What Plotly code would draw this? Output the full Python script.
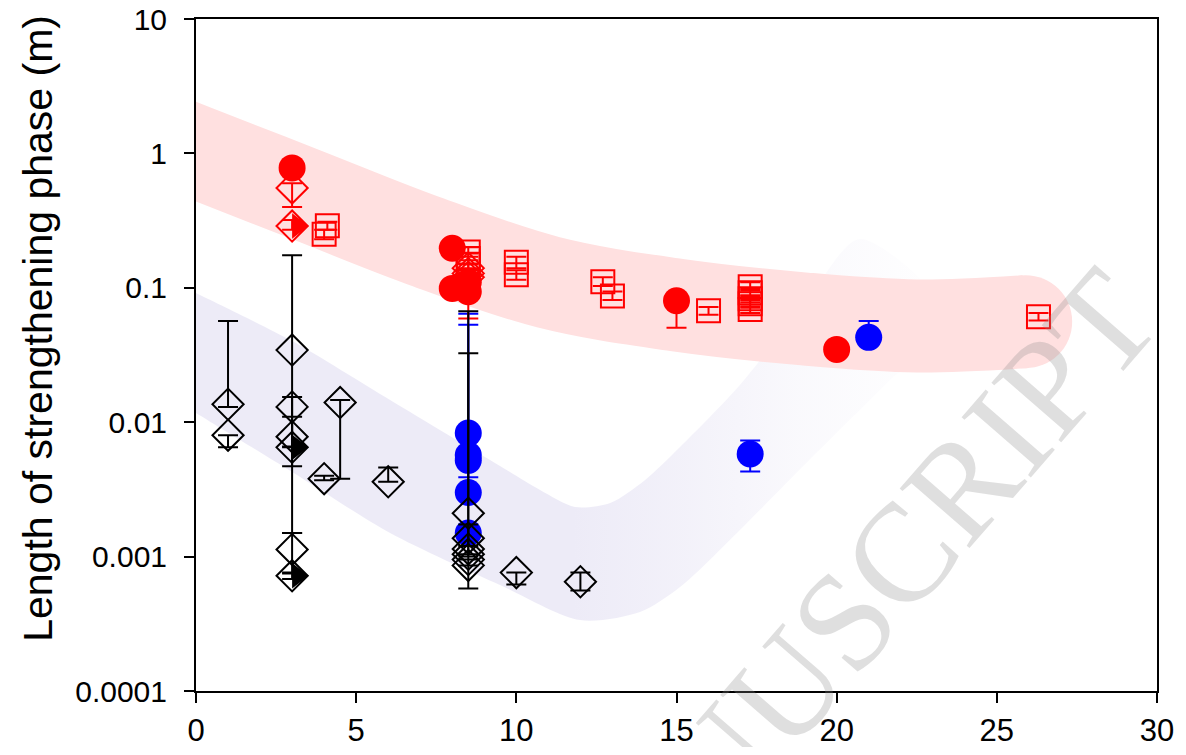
import plotly.graph_objects as go

# ---------------- data ----------------
# black open diamonds
blk_x = [1, 1, 3, 3, 3, 3, 3, 3, 4, 4.5, 6, 8.5, 8.5, 8.5, 8.5, 8.5, 8.5, 10, 12]
blk_y = [0.0136, 0.0080, 0.0344, 0.0130, 0.0078, 0.0065, 0.00113, 0.00072, 0.0038, 0.0140, 0.0036,
         0.0021, 0.00137, 0.00114, 0.00104, 0.00095, 0.00086, 0.00076, 0.00065]
blk_hi = [0.0566, None, 0.175, 0.0154, 0.0110, None, 0.0015, 0.00076, 0.0040, 0.0146, 0.0046,
          0.067, 0.0326, 0.00173, None, None, None, None, 0.00076]
blk_lo = [0.0130, 0.0065, 0.0047, 0.0015, 0.0066, None, 0.00075, 0.00068, 0.0037, 0.0038, None,
          0.00058, 0.00120, 0.00100, None, None, None, 0.00062, 0.00056]
# black half-filled diamonds
blk_half_x = [3, 3]
blk_half_y = [0.0065, 0.00072]

# blue filled circles
blu_x = [8.5, 8.5, 8.5, 8.5, 8.5, 17.3, 21]
blu_y = [0.0083, 0.0057, 0.0052, 0.0030, 0.0015, 0.0058, 0.0428]
blu_hi = [0.064, 0.053, None, None, None, 0.0073, 0.0566]
blu_lo = [None, None, 0.0039, None, None, 0.0043, None]

# red filled circles
red_x = [3, 8, 8, 8.5, 8.5, 15, 20]
red_y = [0.78, 0.197, 0.099, 0.11, 0.0935, 0.080, 0.0348]
red_hi = [None, None, None, None, None, None, None]
red_lo = [None, None, None, None, 0.059, 0.0505, None]

# red open squares
sq_x = [4.1, 4.0, 8.5, 8.5, 8.5, 10, 10, 12.7, 13, 16, 17.3, 17.3, 17.3, 17.3, 17.3, 26.3]
sq_y = [0.29, 0.25, 0.185, 0.165, 0.15, 0.155, 0.125, 0.111, 0.087, 0.0676,
        0.102, 0.092, 0.083, 0.076, 0.069, 0.061]
sq_hi = [0.31, 0.27, 0.20, 0.18, 0.16, 0.17, 0.135, 0.12, 0.094, 0.072,
         0.11, 0.098, 0.088, 0.081, 0.073, 0.065]
sq_lo = [0.27, 0.23, 0.17, 0.15, 0.14, 0.14, 0.115, 0.103, 0.081, 0.063,
         0.095, 0.086, 0.078, 0.071, 0.065, 0.057]

# red open diamonds
rdia_x = [3, 8.5, 8.5, 8.5]
rdia_y = [0.553, 0.14, 0.128, 0.12]
rdia_hi = [0.60, 0.15, 0.137, 0.127]
rdia_lo = [0.40, 0.13, 0.120, 0.113]
# red half-filled diamond
red_half_x = [3]
red_half_y = [0.288]
red_half_hi = [0.32]
red_half_lo = [0.27]

# guide bands
pink_x = [-1, 0, 3.5, 7, 11, 15, 19, 22.5, 25.9]          # centre line of the pink band
pink_y = [1.28, 1.03, 0.486, 0.229, 0.110, 0.0745, 0.0586, 0.052, 0.056]
lav_up_x = [-1, 0, 3.0, 6.06, 9.49, 10.74, 11.83, 12.93, 14.02, 15.11, 16.98, 19.08, 20.73]
lav_up_y = [0.1205, 0.0915, 0.0402, 0.01462, 0.00472, 0.00313, 0.00234, 0.00251, 0.00372,
            0.00653, 0.0189, 0.0811, 0.2307]
lav_lo_x = [-1, 0, 3.0, 6.06, 9.49, 11.99, 13.86, 15.11, 16.98, 19.08, 21.57, 23.54]
lav_lo_y = [0.0164, 0.0117, 0.00426, 0.0015, 0.000615, 0.000337, 0.000387, 0.000594,
            0.00158, 0.00506, 0.0196, 0.0575]

y_tickvals = [0.0001, 0.001, 0.01, 0.1, 1, 10]
y_ticktext = ["0.0001", "0.001", "0.01", "0.1", "1", "10"]
x_tickvals = [0, 5, 10, 15, 20, 25, 30]

# ---------------- helpers ----------------
def errs(y, hi, lo):
    up = [None if h is None else h - v for v, h in zip(y, hi)]
    dn = [None if l is None else v - l for v, l in zip(y, lo)]
    return up, dn

PINK = "rgb(255,224,224)"
RED = "rgb(255,0,0)"
BLUE = "rgb(0,0,255)"
BLACK = "black"

fig = go.Figure()

# lavender band: polygon with horizontal fading gradient
poly_x = lav_up_x + lav_lo_x[::-1]
poly_y = lav_up_y + lav_lo_y[::-1]
fig.add_trace(go.Scatter(
    x=poly_x, y=poly_y, mode="lines", fill="toself",
    line=dict(width=0, color="rgba(0,0,0,0)", shape="spline", smoothing=0.8),
    fillgradient=dict(type="horizontal", start=0, stop=23.5,
                      colorscale=[[0, "rgba(237,235,247,1)"], [0.5, "rgba(237,235,247,1)"],
                                  [0.62, "rgba(237,235,247,0.75)"], [0.8, "rgba(237,235,247,0.3)"],
                                  [1, "rgba(237,235,247,0)"]]),
    hoverinfo="skip"))

# pink band
BW_P = 93
fig.add_trace(go.Scatter(x=pink_x, y=pink_y, mode="lines",
                         line=dict(color=PINK, width=BW_P, shape="spline"), hoverinfo="skip"))
fig.add_trace(go.Scatter(x=pink_x[-1:], y=pink_y[-1:], mode="markers",
                         marker=dict(size=BW_P, color=PINK, line=dict(width=0)), hoverinfo="skip"))

EB = dict(type="data", symmetric=False, thickness=2, width=10)

# blue circles
up, dn = errs(blu_y, blu_hi, blu_lo)
fig.add_trace(go.Scatter(x=blu_x, y=blu_y, mode="markers",
                         marker=dict(symbol="circle", size=27, color=BLUE, line=dict(width=0)),
                         error_y=dict(EB, array=up, arrayminus=dn, color=BLUE)))

# red circles
up, dn = errs(red_y, red_hi, red_lo)
fig.add_trace(go.Scatter(x=red_x, y=red_y, mode="markers",
                         marker=dict(symbol="circle", size=27, color=RED, line=dict(width=0)),
                         error_y=dict(EB, array=up, arrayminus=dn, color=RED)))

# red squares
up, dn = errs(sq_y, sq_hi, sq_lo)
fig.add_trace(go.Scatter(x=sq_x, y=sq_y, mode="markers",
                         marker=dict(symbol="square-open", size=23, color=RED, line=dict(width=2, color=RED)),
                         error_y=dict(EB, array=up, arrayminus=dn, color=RED)))

# red diamonds
up, dn = errs(rdia_y, rdia_hi, rdia_lo)
fig.add_trace(go.Scatter(x=rdia_x, y=rdia_y, mode="markers",
                         marker=dict(symbol="diamond-open", size=24, color=RED, line=dict(width=2, color=RED)),
                         error_y=dict(EB, array=up, arrayminus=dn, color=RED)))
up, dn = errs(red_half_y, red_half_hi, red_half_lo)
fig.add_trace(go.Scatter(x=red_half_x, y=red_half_y, mode="markers",
                         marker=dict(symbol="diamond-open", size=24, color=RED, line=dict(width=2, color=RED)),
                         error_y=dict(EB, array=up, arrayminus=dn, color=RED)))
fig.add_trace(go.Scatter(x=red_half_x, y=red_half_y, mode="markers",
                         marker=dict(symbol="triangle-down", angle=-90, standoff=5.5, size=22,
                                     color=RED, line=dict(width=0))))

# black diamonds
up, dn = errs(blk_y, blk_hi, blk_lo)
fig.add_trace(go.Scatter(x=blk_x, y=blk_y, mode="markers",
                         marker=dict(symbol="diamond-open", size=24, color=BLACK, line=dict(width=2, color=BLACK)),
                         error_y=dict(EB, array=up, arrayminus=dn, color=BLACK)))
fig.add_trace(go.Scatter(x=blk_half_x, y=blk_half_y, mode="markers",
                         marker=dict(symbol="triangle-down", angle=-90, standoff=5.5, size=22,
                                     color=BLACK, line=dict(width=0))))

FONT = "Liberation Sans, Arial, sans-serif"
# the page body has an 8px margin: figure is sized so it exactly fills the 1186x755 window
fig.update_layout(
    width=1178, height=739,
    margin=dict(l=188, r=29, t=11, b=56, pad=0),
    paper_bgcolor="white", plot_bgcolor="white",
    showlegend=False,
    font=dict(family=FONT, color="black"),
    xaxis=dict(range=[0, 30], tickvals=x_tickvals, ticks="outside", ticklen=10, tickwidth=2,
               tickcolor="black", showline=True, linewidth=2, linecolor="black", mirror=True,
               showgrid=False, zeroline=False, tickfont=dict(size=31, family=FONT),
               ticklabelstandoff=1, automargin=False, ticklabeloverflow="allow"),
    yaxis=dict(type="log", range=[-4, 1], tickvals=y_tickvals, ticktext=y_ticktext,
               ticks="outside", ticklen=10, tickwidth=2, tickcolor="black",
               showline=True, linewidth=2, linecolor="black", mirror=True,
               showgrid=False, zeroline=False, tickfont=dict(size=30, family=FONT),
               ticklabelstandoff=11, automargin=False, ticklabeloverflow="allow"),
    annotations=[
        dict(text="Length of strengthening phase (m)", xref="paper", yref="paper",
             x=-0.1644, y=0.539, xanchor="center", yanchor="middle", textangle=-90,
             showarrow=False, font=dict(size=41, family=FONT, color="black")),
        dict(text="ACCEPTED MANUSCRIPT", xref="paper", yref="paper",
             x=0.404, y=-0.338, xanchor="center", yanchor="middle",
             textangle=-49, showarrow=False,
             font=dict(size=140, family="Liberation Serif, Times New Roman, serif",
                       color="rgba(140,140,140,0.28)")),
    ],
)

fig.write_html("out.html")
